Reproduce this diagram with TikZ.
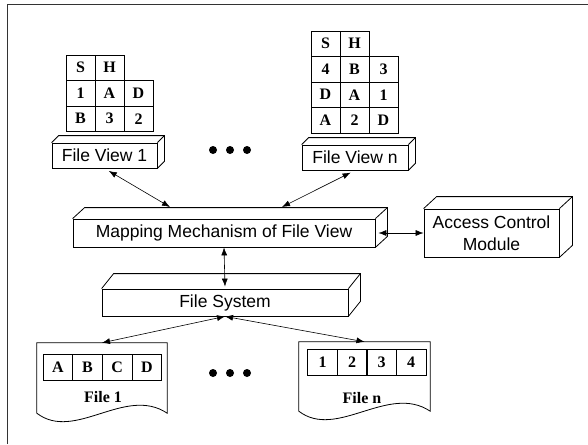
\documentclass[tikz,border=0pt]{standalone}
\usepackage{fontspec}
\setmainfont{Liberation Serif}
\setsansfont{Liberation Sans}
\usetikzlibrary{arrows.meta,calc}

\tikzset{
  facebox/.style={draw, fill=white, line width=0.8pt, inner sep=0pt, align=center,
    font=\sffamily\fontsize{17.5}{22}\selectfont},
  cell/.style={draw, line width=0.8pt, minimum width=29pt, minimum height=25.5pt, inner sep=0pt,
    font=\bfseries\fontsize{16}{18}\selectfont},
  filecell/.style={cell, minimum width=29.7pt, minimum height=26pt},
  filebody/.style={minimum width=130pt, minimum height=70pt, inner sep=0pt},
  dotmark/.style={fill, circle, inner sep=0pt, minimum size=8pt},
  link/.style={<->, >={Latex[length=8pt,width=6pt]}, line width=0.6pt}
}
% depth faces of a box node: name, dx, dy
\newcommand{\boxdepth}[3]{
  \draw[line width=0.8pt] (#1.north west) -- ++(#2,-#3) -| ($(#1.south east)+(#2,-#3)$) -- (#1.south east);
  \draw[line width=0.8pt] (#1.north east) -- ++(#2,-#3);
}
% wavy document outline round a file node
\newcommand{\docshape}[1]{
  \draw[line width=0.8pt] (#1.north west) -- (#1.north east) -- (#1.south east)
    .. controls +(-42,-28) and +(38,29) .. (#1.south west) -- cycle;
}

\begin{document}
\begin{tikzpicture}[x=1pt,y=-1pt]
  \useasboundingbox (0,0) rectangle (588,444);
  % frame
  \draw[line width=1pt, black!80] (7.5,444) -- (7.5,5) -- (588,5);

  % file views and their tables
  \node[facebox, minimum width=105pt, minimum height=25pt] (fv1) at (104.5,155.5) {File View 1};
  \boxdepth{fv1}{7}{7}
  \node[facebox, minimum width=106pt, minimum height=25pt] (fvn) at (355,157.5) {File View n};
  \boxdepth{fvn}{7}{7}
  \foreach \c/\r/\t in {1/1/S,2/1/H,1/2/1,2/2/A,3/2/D,1/3/B,2/3/3,3/3/2}
    \node[cell] (ta\c\r) at (51.5+29*\c,42.25+25.5*\r) {\t};
  \foreach \c/\r/\t in {1/1/S,2/1/H,1/2/4,2/2/B,3/2/3,1/3/D,2/3/A,3/3/1,1/4/A,2/4/2,3/4/D}
    \node[cell] (tb\c\r) at (296.5+29*\c,18.25+25.5*\r) {\t};
  \foreach \x in {213,230,247}
    \node[dotmark] (dt\x) at (\x,150) {};

  % mapping, access control, file system
  \node[facebox, minimum width=302pt, minimum height=28pt] (map) at (224,233) {Mapping Mechanism of File View};
  \boxdepth{map}{12}{11}
  \node[facebox, minimum width=135pt, minimum height=48pt] (acm) at (491.5,233) {Access Control\\Module};
  \boxdepth{acm}{13}{12}
  \node[facebox, minimum width=246pt, minimum height=27pt] (fs) at (225,302.5) {File System};
  \boxdepth{fs}{12}{15}

  % files
  \node[filebody] (file1) at (102,378) {};
  \docshape{file1}
  \foreach \c/\t in {1/A,2/B,3/C,4/D}
    \node[filecell] (fa\c) at (28.1+29.7*\c,367) {\t};
  \node[font=\bfseries\fontsize{16}{18}\selectfont] (lab1) at (103,397) {File 1};
  \node[filebody, minimum width=131pt, minimum height=69pt] (filen) at (364.5,376.5) {};
  \docshape{filen}
  \foreach \c/\t in {1/1,2/2,3/3,4/4}
    \node[filecell] (fb\c) at (293.2+29.5*\c,362) {\t};
  \node[font=\bfseries\fontsize{16}{18}\selectfont] (labn) at (362,398) {File n};
  \foreach \x in {213,230,247}
    \node[dotmark] (db\x) at (\x,373) {};

  % links
  \coordinate (mapin1) at (170,207);
  \coordinate (mapinn) at (282,207);
  \draw[link, shorten <=5pt] (fv1.south) -- (mapin1);
  \draw[link, shorten <=5pt] (fvn.south) -- (mapinn);
  \draw[link] ([xshift=3pt]map.east) -- (acm.west);
  \draw[link] (map.south) -- ([yshift=2pt]fs.north);
  \draw[link] (fs.south) -- (file1.north);
  \draw[link] (fs.south) -- (filen.north);
\end{tikzpicture}
\end{document}
